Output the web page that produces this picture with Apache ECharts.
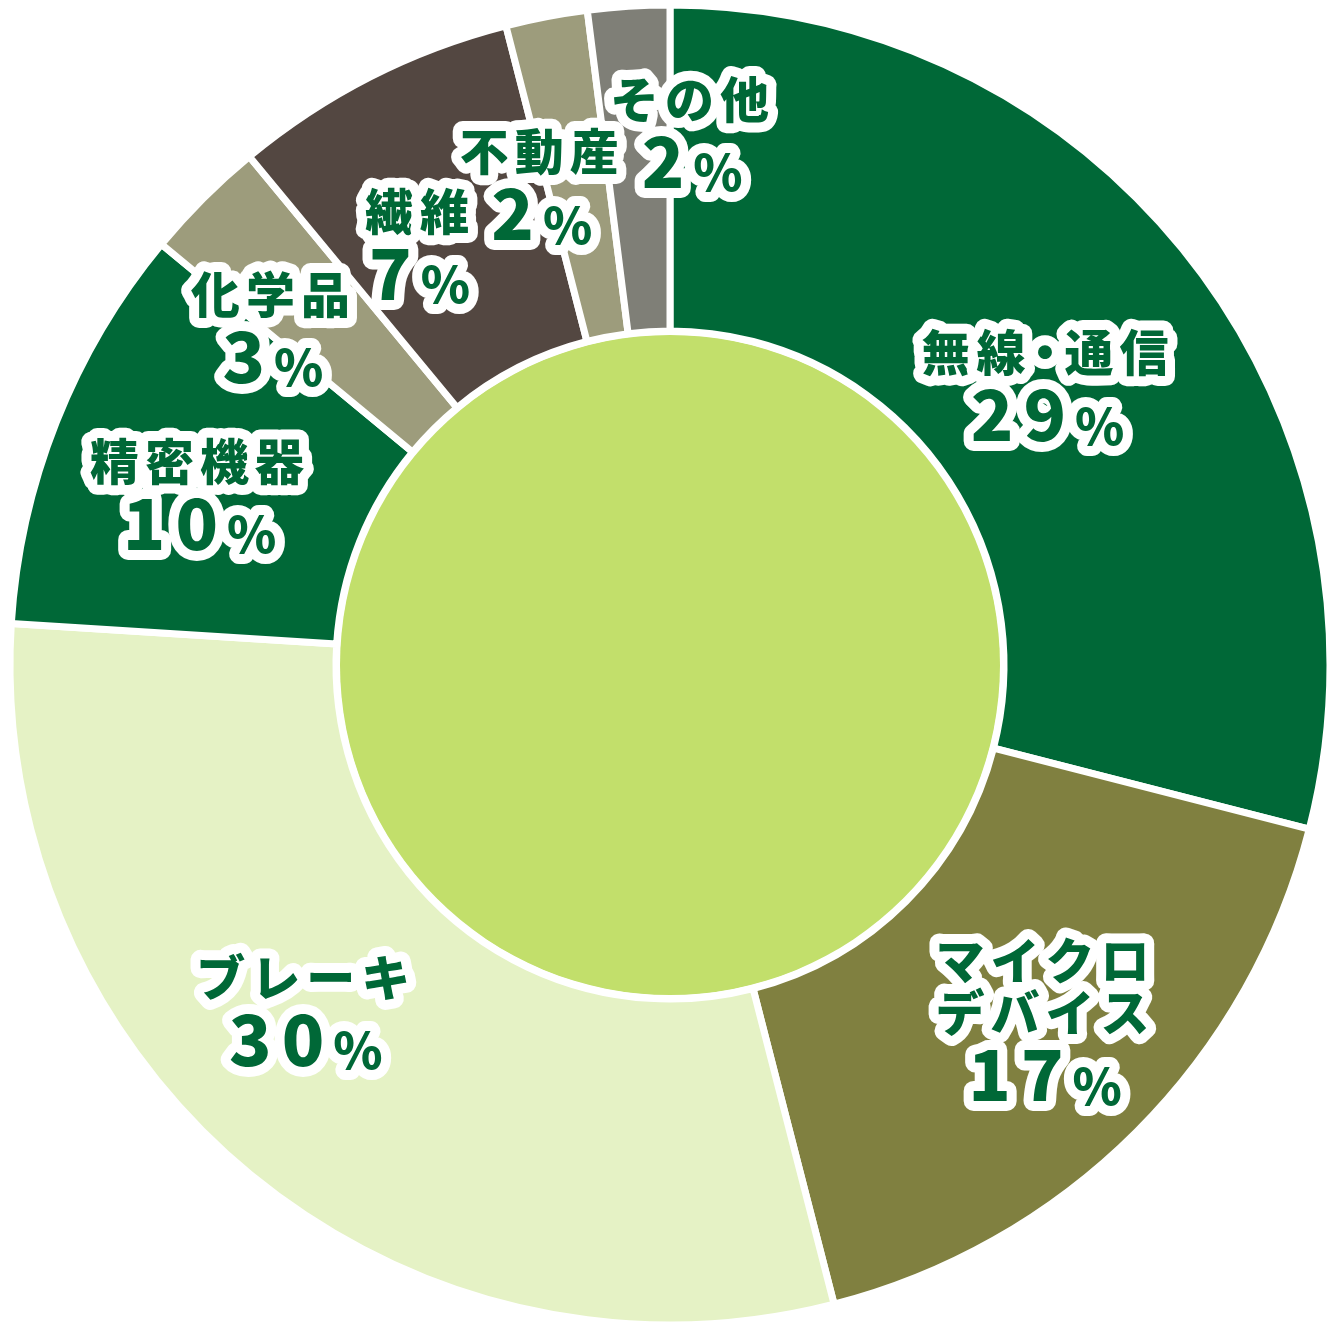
<!DOCTYPE html>
<html>
<head>
<meta charset="utf-8">
<script src="https://cdn.jsdelivr.net/npm/echarts@6/dist/echarts.min.js"></script>
<style>
html,body{margin:0;padding:0;background:#fff;}
#chart{width:1340px;height:1340px;}
</style>
</head>
<body>
<div id="chart"></div>
<script>
// ---- data ----
const categories = ['無線・通信', 'マイクロ\nデバイス', 'ブレーキ', '精密機器', '化学品', '繊維', '不動産', 'その他'];
const shares = [29, 17, 30, 10, 3, 7, 2, 2];
const centerValue = [100];

// ---- styles ----
const sliceColors = ['#006837', '#808040', '#e5f2c5', '#006837', '#9d9c7c', '#534741', '#9d9c7c', '#7f7f77'];
const labelNudge = [[-20, 30], [19, 4], [-48, -37], [-8, 16], [-46, 19], [-26, 28], [-37, 14], [51, -31]];
const textColor = '#006837';
const FONT = '"Noto Sans CJK JP", "Noto Sans", sans-serif';

function tokens(str, style) {
  return Array.from(str).map(c => c === '・' ? '{d|' + c + '}' : '{' + style + '|' + c + '}').join('');
}

const chart = echarts.init(document.getElementById('chart'), null, {renderer: 'canvas'});

const halo = {textBorderColor: '#fff', textBorderWidth: 20, color: textColor, fontFamily: FONT, fontWeight: 900};

const option = {
  backgroundColor: '#fff',
  animation: false,
  series: [
    {
      type: 'pie',
      silent: true,
      center: [670, 665],
      radius: [0, 330],
      label: {show: false},
      labelLine: {show: false},
      itemStyle: {color: '#c2df6b'},
      data: centerValue.map(v => ({value: v, name: ''}))
    },
    {
      type: 'pie',
      center: [670, 665],
      radius: [334, 660],
      startAngle: 90,
      clockwise: true,
      avoidLabelOverlap: false,
      itemStyle: {borderColor: '#fff', borderWidth: 7},
      labelLine: {show: false},
      label: {
        show: true,
        position: 'inside',
        ...halo,
        formatter: function (p) {
          const nameLines = p.name.split('\n').map(l => tokens(l, 'n'));
          return nameLines.join('\n') + '\n' + tokens(String(p.value), 'v') + '{p|%}';
        },
        rich: {
          n: {...halo, fontSize: 49, lineHeight: 52, padding: [0, 3, 0, 3]},
          d: {...halo, fontSize: 49, lineHeight: 52, padding: [0, -8, 0, -8]},
          v: {...halo, fontSize: 70, lineHeight: 72, padding: [0, 5, 0, 5]},
          p: {...halo, fontSize: 50, lineHeight: 72, padding: [0, 0, 0, 4], verticalAlign: 'bottom'}
        }
      },
      labelLayout: function (params) {
        const n = labelNudge[params.dataIndex] || [0, 0];
        return {dx: n[0], dy: n[1]};
      },
      data: categories.map((c, i) => ({
        name: c,
        value: shares[i],
        itemStyle: {color: sliceColors[i]}
      }))
    }
  ]
};
chart.setOption(option);

// round the white text halos
function roundHalos() {
  const zr = chart.getZr();
  const list = zr.storage.getDisplayList(true);
  list.forEach(el => {
    if (el.type === 'tspan' || el.type === 'text') {
      el.style.lineJoin = 'round';
      el.style.lineCap = 'round';
      el.markRedraw && el.markRedraw();
    }
  });
  zr.refreshImmediately();
}
roundHalos();
chart.on('finished', roundHalos);
</script>
</body>
</html>
